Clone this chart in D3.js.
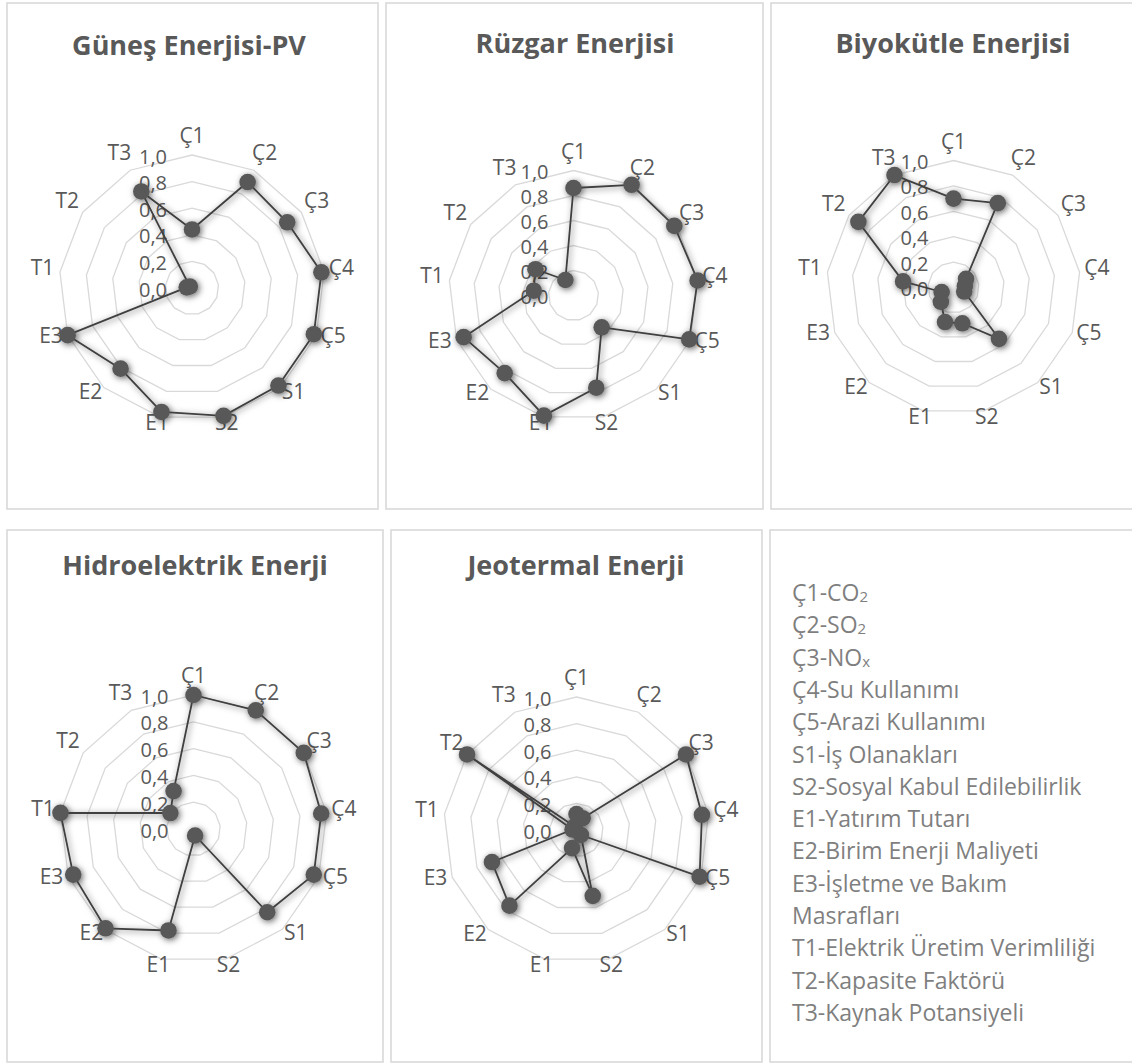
<!DOCTYPE html>
<html lang="tr">
<head>
<meta charset="utf-8">
<script src="https://cdn.jsdelivr.net/npm/d3@7"></script>
<style>
  html, body { margin: 0; padding: 0; background: #ffffff; }
  svg { display: block; }
</style>
</head>
<body>
<svg id="chart" width="1132" height="1064"></svg>
<script>
// Criteria (axes of every radar)
const categories = ["Ç1", "Ç2", "Ç3", "Ç4", "Ç5", "S1", "S2", "E1", "E2", "E3", "T1", "T2", "T3"];

// Panel titles
const titles = ["Güneş Enerjisi-PV", "Rüzgar Enerjisi", "Biyokütle Enerjisi", "Hidroelektrik Enerji", "Jeotermal Enerji"];

// Normalised scores per energy source, in the order of `categories`
const gunesValues     = [0.44, 0.90, 0.87, 0.98, 0.98, 0.98, 0.99, 0.96, 0.81, 1.00, 0.04, 0.02, 0.82];
const ruzgarValues    = [0.86, 1.00, 0.98, 1.00, 0.99, 0.34, 0.76, 0.99, 0.83, 0.94, 0.32, 0.37, 0.14];
const biyokutleValues = [0.70, 0.75, 0.12, 0.09, 0.09, 0.54, 0.29, 0.28, 0.15, 0.10, 0.40, 0.91, 1.00];
const hidroValues     = [1.00, 1.00, 1.00, 0.96, 0.96, 0.83, 0.05, 0.78, 0.99, 0.96, 1.00, 0.21, 0.32];
const jeotermalValues = [0.12, 0.10, 1.00, 0.95, 0.99, 0.05, 0.51, 0.14, 0.76, 0.68, 0.03, 1.00, 0.03];

// Radial axis ticks
const tickValues = [0, 0.2, 0.4, 0.6, 0.8, 1.0];
const tickLabels = ["0,0", "0,2", "0,4", "0,6", "0,8", "1,0"];

// Legend text: each line is a list of [text, isSubscript] runs
const legendLines = [
  [["Ç1-CO", false], ["2", true]],
  [["Ç2-SO", false], ["2", true]],
  [["Ç3-NO", false], ["x", true]],
  [["Ç4-Su Kullanımı", false]],
  [["Ç5-Arazi Kullanımı", false]],
  [["S1-İş Olanakları", false]],
  [["S2-Sosyal Kabul Edilebilirlik", false]],
  [["E1-Yatırım Tutarı", false]],
  [["E2-Birim Enerji Maliyeti", false]],
  [["E3-İşletme ve Bakım", false]],
  [["Masrafları", false]],
  [["T1-Elektrik Üretim Verimliliği", false]],
  [["T2-Kapasite Faktörü", false]],
  [["T3-Kaynak Potansiyeli", false]]
];

const FONT = "'Open Sans', 'Noto Sans', sans-serif";
const TEXT = "#595959";
const GRID = "#d9d9d9";

// Panel frames and radar geometry
const panels = [
  { title: titles[0], values: gunesValues,     box: [7, 3, 371, 506],   cx: 192,   cy: 288,   r: 133, tx: 189, ty: 55 },
  { title: titles[1], values: ruzgarValues,    box: [386, 3, 377, 506], cx: 573.5, cy: 295.5, r: 125, tx: 575, ty: 53 },
  { title: titles[2], values: biyokutleValues, box: [771, 3, 380, 506], cx: 953.5, cy: 287.5, r: 127, tx: 953, ty: 53 },
  { title: titles[3], values: hidroValues,     box: [7, 530, 376, 532], cx: 193.5, cy: 829,   r: 134, tx: 195, ty: 575 },
  { title: titles[4], values: jeotermalValues, box: [391, 530, 371, 532], cx: 576.5, cy: 830, r: 133, tx: 576, ty: 575 }
];
const legendBox = [770, 530, 380, 532];

const svg = d3.select("#chart");

// Soft outer shadow used for the series line and markers
const defs = svg.append("defs");
const f = defs.append("filter").attr("id", "seriesShadow")
  .attr("x", "-20%").attr("y", "-20%").attr("width", "140%").attr("height", "140%");
f.append("feDropShadow").attr("dx", 1.5).attr("dy", 1.5)
  .attr("stdDeviation", 3).attr("flood-color", "#000").attr("flood-opacity", 0.6);

const angle = d3.scaleLinear().domain([0, categories.length]).range([0, 2 * Math.PI]);

function drawFrame(b) {
  svg.append("rect")
    .attr("x", b[0]).attr("y", b[1]).attr("width", b[2]).attr("height", b[3])
    .attr("fill", "#fff").attr("stroke", GRID).attr("stroke-width", 1.6);
}

panels.forEach(p => {
  drawFrame(p.box);

  svg.append("text")
    .attr("x", p.tx).attr("y", p.ty)
    .attr("text-anchor", "middle")
    .attr("font-family", FONT).attr("font-size", 27).attr("font-weight", "bold")
    .attr("fill", TEXT)
    .text(p.title);

  const radius = d3.scaleLinear().domain([0, 1]).range([0, p.r]);
  const g = svg.append("g").attr("transform", `translate(${p.cx},${p.cy})`);

  // Concentric polygon grid
  const ring = d3.lineRadial()
    .angle((d, i) => angle(i))
    .radius(d => radius(d))
    .curve(d3.curveLinearClosed);
  g.selectAll("path.ring")
    .data(tickValues.filter(v => v > 0))
    .join("path")
    .attr("class", "ring")
    .attr("d", v => ring(categories.map(() => v)))
    .attr("fill", "none").attr("stroke", GRID).attr("stroke-width", 1.3);

  // Radial axis tick labels
  g.selectAll("text.tick")
    .data(tickValues)
    .join("text")
    .attr("class", "tick")
    .attr("x", -25)
    .attr("y", v => -radius(v) + 1)
    .attr("text-anchor", "end").attr("dominant-baseline", "central")
    .attr("font-family", FONT).attr("font-size", 20).attr("fill", TEXT)
    .text((v, i) => tickLabels[i]);

  // Category labels around the outer ring
  g.selectAll("text.cat")
    .data(categories)
    .join("text")
    .attr("class", "cat")
    .each(function (c, i) {
      const a = angle(i);
      const sx = Math.sin(a), sy = -Math.cos(a);
      const d = p.r + 12.5;
      const x = d * sx + (Math.abs(sx) > 0.3 ? 5 * Math.sign(sx) : 0);
      const y = d * sy - 3 - 4.5 * Math.abs(sy);
      d3.select(this).attr("x", x).attr("y", y);
    })
    .attr("text-anchor", "middle").attr("dominant-baseline", "central")
    .attr("font-family", FONT).attr("font-size", 21).attr("fill", TEXT)
    .text(c => c);

  // Series: closed polyline with markers
  const series = g.append("g").attr("filter", "url(#seriesShadow)");
  const line = d3.lineRadial()
    .angle((d, i) => angle(i))
    .radius(d => radius(d))
    .curve(d3.curveLinearClosed);
  series.append("path")
    .attr("d", line(p.values))
    .attr("fill", "none").attr("stroke", "#3f3f3f").attr("stroke-width", 1.8)
    .attr("stroke-linejoin", "round");
  series.selectAll("circle")
    .data(p.values)
    .join("circle")
    .attr("cx", (v, i) => radius(v) * Math.sin(angle(i)))
    .attr("cy", (v, i) => -radius(v) * Math.cos(angle(i)))
    .attr("r", 8.3)
    .attr("fill", "#595959");
});

// Legend panel
drawFrame(legendBox);
const legend = svg.append("g");
legendLines.forEach((runs, i) => {
  const t = legend.append("text")
    .attr("x", 792).attr("y", 592 + i * 32.3)
    .attr("dominant-baseline", "central")
    .attr("font-family", FONT).attr("font-size", 23).attr("fill", "#7f7f7f");
  runs.forEach(([txt, sub]) => {
    const s = t.append("tspan").text(txt);
    if (sub) s.attr("font-size", 15).attr("dy", 4);
  });
});
</script>
</body>
</html>
